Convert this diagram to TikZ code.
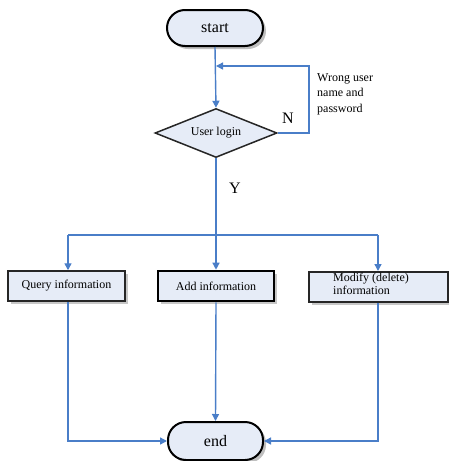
\documentclass[tikz,border=0pt]{standalone}
\usepackage{fontspec}
\setmainfont{Liberation Serif}
\usetikzlibrary{shapes.geometric,shadows,arrows.meta}
\definecolor{lineblue}{HTML}{4A7EC8}
\definecolor{boxfill}{HTML}{E6ECF7}
\begin{document}
\begin{tikzpicture}[x=1pt,y=-1pt,
  conn/.style={draw=lineblue,line width=1.4pt,-{Triangle[length=7pt,width=7pt]}},
  plain/.style={draw=lineblue,line width=1.4pt},
  pill/.style={draw=black,line width=2pt,fill=boxfill,rounded corners=18pt,
    minimum width=96pt,minimum height=36pt,inner sep=0pt,font=\fontsize{16}{18}\selectfont,
    drop shadow={shadow xshift=3pt,shadow yshift=-3pt,fill=black!25,opacity=1}},
  procbox/.style={draw=black!85,line width=1.5pt,fill=boxfill,minimum height=30pt,inner sep=0pt,
    font=\fontsize{12}{14}\selectfont,
    drop shadow={shadow xshift=3pt,shadow yshift=-3pt,fill=black!22,opacity=1}},
  decision/.style={diamond,aspect=2.5,draw=black!85,line width=1.5pt,fill=boxfill,inner sep=0pt,
    minimum width=122pt,minimum height=49pt,font=\fontsize{12}{14}\selectfont},
  lbl/.style={font=\fontsize{12}{15.5}\selectfont,align=left},
  yn/.style={font=\fontsize{16}{18}\selectfont}
]
\useasboundingbox (0,0) rectangle (448,461);
\node[pill] (start) at (215,28) {start};
\node[decision] (login) at (216,133) {User login};
\node[procbox,minimum width=117pt] (query) at (66.5,286) {Query information};
\node[procbox,minimum width=116pt,line width=2.6pt,draw=black] (add) at (216,286) {Add information};
\node[procbox,minimum width=139pt,align=left,anchor=north west,text depth=0pt] (mod) at (308,271) {};
\node[lbl,anchor=north west,inner sep=0pt,font=\fontsize{12}{12.5}\selectfont] (modtext) at (333,273) {Modify (delete)\\information};
\node[pill,minimum width=95pt,minimum height=38pt] (end) at (215.5,441) {end};
\node[lbl,anchor=north west,inner sep=0pt] (wrong) at (317,73) {Wrong user\\name and\\password};
\node[yn] (N) at (288,118) {N};
\node[yn] (Y) at (235,188) {Y};
\coordinate (loopA) at (309,133);
\coordinate (loopB) at (309,66);
\coordinate (loopC) at (216,66);
\coordinate (split) at (216,235);
\coordinate (splitL) at (68,235);
\coordinate (splitR) at (378,235);
\coordinate (joinL) at (68,441);
\coordinate (joinR) at (378,441);
\draw[conn] (start.south) -- (login.north);
\draw[conn] (login.east) -- (loopA) -- (loopB) -- (loopC);
\draw[plain] (login.south) -- (split);
\draw[plain] (splitL) -- (splitR);
\draw[conn] (splitL) -- (splitL |- query.north);
\draw[conn] (split) -- (add.north);
\draw[conn] (splitR) -- (splitR |- mod.north);
\draw[conn] (query.south -| joinL) -- (joinL) -- (end.west);
\draw[conn] (add.south) -- (end.north);
\draw[conn] (mod.south -| joinR) -- (joinR) -- (end.east);
\end{tikzpicture}
\end{document}
